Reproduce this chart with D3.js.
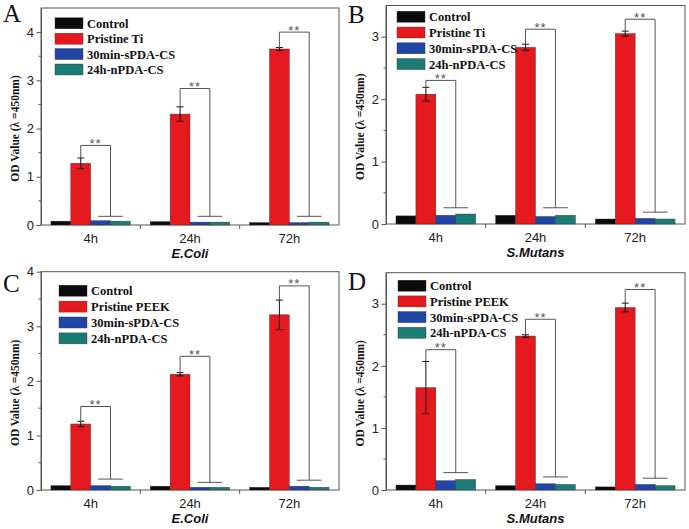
<!DOCTYPE html>
<html>
<head>
<meta charset="utf-8">
<script src="https://cdnjs.cloudflare.com/ajax/libs/d3/7.8.5/d3.min.js"></script>
<style>
  body { margin: 0; background: #fff; }
  svg { display: block; }
</style>
</head>
<body>
<script>
"use strict";

// categories and legends
var timepoints = ["4h", "24h", "72h"];
var seriesTi = ["Control", "Pristine Ti", "30min-sPDA-CS", "24h-nPDA-CS"];
var seriesPeek = ["Control", "Pristine PEEK", "30min-sPDA-CS", "24h-nPDA-CS"];

// A : Ti, E.Coli  (one array per series, in time order)
var aControl = [0.08, 0.07, 0.05];
var aPristine = [1.28, 2.30, 3.65];
var aSPDA = [0.09, 0.06, 0.05];
var aNPDA = [0.08, 0.06, 0.06];
var aPristineErr = [0.11, 0.15, 0.03];
var aBracketTop = [1.65, 2.83, 4.0];
var aBracketLow = [0.18, 0.18, 0.18];

// B : Ti, S.Mutans
var bControl = [0.13, 0.14, 0.08];
var bPristine = [2.08, 2.83, 3.05];
var bSPDA = [0.14, 0.12, 0.09];
var bNPDA = [0.16, 0.14, 0.08];
var bPristineErr = [0.11, 0.05, 0.04];
var bBracketTop = [2.30, 3.12, 3.28];
var bBracketLow = [0.26, 0.26, 0.19];

// C : PEEK, E.Coli
var cControl = [0.08, 0.07, 0.05];
var cPristine = [1.21, 2.12, 3.21];
var cSPDA = [0.08, 0.05, 0.07];
var cNPDA = [0.07, 0.05, 0.05];
var cPristineErr = [0.05, 0.03, 0.27];
var cBracketTop = [1.53, 2.45, 3.74];
var cBracketLow = [0.20, 0.14, 0.18];

// D : PEEK, S.Mutans
var dControl = [0.08, 0.07, 0.05];
var dPristine = [1.65, 2.48, 2.94];
var dSPDA = [0.15, 0.10, 0.09];
var dNPDA = [0.17, 0.09, 0.07];
var dPristineErr = [0.42, 0.02, 0.07];
var dBracketTop = [2.26, 2.75, 3.23];
var dBracketLow = [0.28, 0.21, 0.19];

var yTicksA = [0, 1, 2, 3, 4];
var yTicksB = [0, 1, 2, 3];

var colors = ["#0b0b0b", "#e6191f", "#2045a6", "#1b7c76"];

var panels = [
  {letter: "A", lx: 3, ly: 22, left: 41, right: 339, top: 8, bottom: 225, ymax: 4.5, ticks: yTicksA,
   series: seriesTi, values: [aControl, aPristine, aSPDA, aNPDA], err: aPristineErr,
   bTop: aBracketTop, bLow: aBracketLow, title: "E.Coli", legX: 55, legY: 23.3, legStep: 15.4},
  {letter: "B", lx: 348, ly: 23, left: 386, right: 685, top: 5.5, bottom: 224, ymax: 3.5, ticks: yTicksB,
   series: seriesTi, values: [bControl, bPristine, bSPDA, bNPDA], err: bPristineErr,
   bTop: bBracketTop, bLow: bBracketLow, title: "S.Mutans", legX: 397, legY: 16.7, legStep: 15.8},
  {letter: "C", lx: 3, ly: 291.5, left: 41, right: 339, top: 271.7, bottom: 490, ymax: 4, ticks: yTicksA,
   series: seriesPeek, values: [cControl, cPristine, cSPDA, cNPDA], err: cPristineErr,
   bTop: cBracketTop, bLow: cBracketLow, title: "E.Coli", legX: 59, legY: 290.7, legStep: 15.9},
  {letter: "D", lx: 348, ly: 290, left: 386, right: 685, top: 272.7, bottom: 490, ymax: 3.5, ticks: yTicksB,
   series: seriesPeek, values: [dControl, dPristine, dSPDA, dNPDA], err: dPristineErr,
   bTop: dBracketTop, bLow: dBracketLow, title: "S.Mutans", legX: 398, legY: 285.7, legStep: 15.7}
];

var svg = d3.select("body").append("svg")
    .attr("width", 689)
    .attr("height", 529);

var serif = "'Liberation Serif', 'Times New Roman', serif";
var sans = "'Liberation Sans', Arial, sans-serif";

panels.forEach(drawPanel);

function drawPanel(p) {
  var g = svg.append("g");

  var x0 = d3.scaleBand().domain(timepoints).range([p.left, p.right]);
  var bw = x0.bandwidth();
  var x1 = d3.scaleBand().domain(d3.range(4)).range([bw * 0.1, bw * 0.9]);
  var y = d3.scaleLinear().domain([0, p.ymax]).range([p.bottom, p.top]);
  var barW = x1.bandwidth();

  // frame
  g.append("rect")
      .attr("x", p.left).attr("y", p.top)
      .attr("width", p.right - p.left).attr("height", p.bottom - p.top)
      .attr("fill", "none").attr("stroke", "#555").attr("stroke-width", 1);

  // minor y ticks
  var minor = d3.range(0.5, p.ymax, 1);
  g.append("g").selectAll("line").data(minor).join("line")
      .attr("x1", p.left - 2.5).attr("x2", p.left)
      .attr("y1", function(d) { return y(d); }).attr("y2", function(d) { return y(d); })
      .attr("stroke", "#555");

  // y axis
  var gy = g.append("g")
      .attr("transform", "translate(" + p.left + ",0)")
      .call(d3.axisLeft(y).tickValues(p.ticks).tickFormat(d3.format("d")).tickSizeInner(4.5).tickSizeOuter(0));
  gy.select(".domain").attr("stroke", "#555");
  gy.selectAll(".tick line").attr("stroke", "#555");
  gy.selectAll(".tick text")
      .attr("font-family", sans).attr("font-size", 13).attr("fill", "#222").attr("x", -7);

  // x axis
  var gx = g.append("g")
      .attr("transform", "translate(0," + p.bottom + ")")
      .call(d3.axisBottom(x0).tickSize(0).tickPadding(6));
  gx.select(".domain").remove();
  gx.selectAll(".tick text")
      .attr("font-family", sans).attr("font-size", 13).attr("fill", "#222").attr("dy", "0.9em");
  // ticks on band boundaries
  g.append("g").selectAll("line").data(timepoints.slice(1)).join("line")
      .attr("x1", function(d) { return x0(d); }).attr("x2", function(d) { return x0(d); })
      .attr("y1", p.bottom).attr("y2", p.bottom + 4)
      .attr("stroke", "#555");

  // bars
  var groups = g.append("g").selectAll("g").data(timepoints).join("g")
      .attr("transform", function(d) { return "translate(" + x0(d) + ",0)"; });

  groups.selectAll("rect")
      .data(function(d, i) { return p.values.map(function(s, k) { return {k: k, v: s[i]}; }); })
      .join("rect")
      .attr("x", function(d) { return x1(d.k); })
      .attr("y", function(d) { return y(d.v); })
      .attr("width", barW)
      .attr("height", function(d) { return y(0) - y(d.v); })
      .attr("fill", function(d) { return colors[d.k]; })
      .attr("stroke", "#333").attr("stroke-width", 0.4);

  // error bars on the pristine bars
  groups.each(function(d, i) {
    var cx = x1(1) + barW / 2;
    var v = p.values[1][i], e = p.err[i];
    var sel = d3.select(this);
    sel.append("line")
        .attr("x1", cx).attr("x2", cx).attr("y1", y(v - e)).attr("y2", y(v + e))
        .attr("stroke", "#111");
    [v - e, v + e].forEach(function(t) {
      sel.append("line")
          .attr("x1", cx - 3.5).attr("x2", cx + 3.5).attr("y1", y(t)).attr("y2", y(t))
          .attr("stroke", "#111");
    });

    // significance bracket
    var bx = x1(3);            // between sPDA and nPDA bars
    var top = y(p.bTop[i]);
    var low = y(p.bLow[i]);
    sel.append("path")
        .attr("d", "M" + cx + "," + y(v + e) + "V" + top + "H" + bx + "V" + low)
        .attr("fill", "none").attr("stroke", "#555").attr("stroke-width", 1);
    sel.append("line")
        .attr("x1", bx - barW * 0.62).attr("x2", bx + barW * 0.62)
        .attr("y1", low).attr("y2", low)
        .attr("stroke", "#555");
    sel.append("text")
        .attr("x", (cx + bx) / 2).attr("y", top + 2.5)
        .attr("text-anchor", "middle")
        .attr("font-family", sans).attr("font-size", 13).attr("fill", "#555")
        .attr("letter-spacing", 1)
        .text("**");
  });

  // legend
  var leg = g.append("g").selectAll("g").data(p.series).join("g")
      .attr("transform", function(d, i) { return "translate(" + p.legX + "," + (p.legY + i * p.legStep) + ")"; });
  leg.append("rect")
      .attr("x", 0).attr("y", -5.5).attr("width", 28).attr("height", 11)
      .attr("fill", function(d, i) { return colors[i]; })
      .attr("stroke", "#333").attr("stroke-width", 0.4);
  leg.append("text")
      .attr("x", 32).attr("y", 4.5)
      .attr("font-family", serif).attr("font-weight", "bold").attr("font-size", 12.5)
      .attr("fill", "#111")
      .text(function(d) { return d; });

  // y label
  var cy = (p.top + p.bottom) / 2 + 12;
  g.append("text")
      .attr("transform", "translate(" + (p.left - 22) + "," + cy + ") rotate(-90)")
      .attr("text-anchor", "middle")
      .attr("font-family", serif).attr("font-weight", "bold").attr("font-size", 11.5)
      .attr("fill", "#111")
      .text("OD Value (\u03bb  =450nm)");

  // x title
  g.append("text")
      .attr("x", (p.left + p.right) / 2).attr("y", p.bottom + 33)
      .attr("text-anchor", "middle")
      .attr("font-family", sans).attr("font-weight", "bold").attr("font-style", "italic")
      .attr("font-size", 13).attr("fill", "#111")
      .text(p.title);

  // panel letter
  g.append("text")
      .attr("x", p.lx).attr("y", p.ly)
      .attr("font-family", serif).attr("font-size", 25).attr("fill", "#111")
      .text(p.letter);
}
</script>
</body>
</html>
